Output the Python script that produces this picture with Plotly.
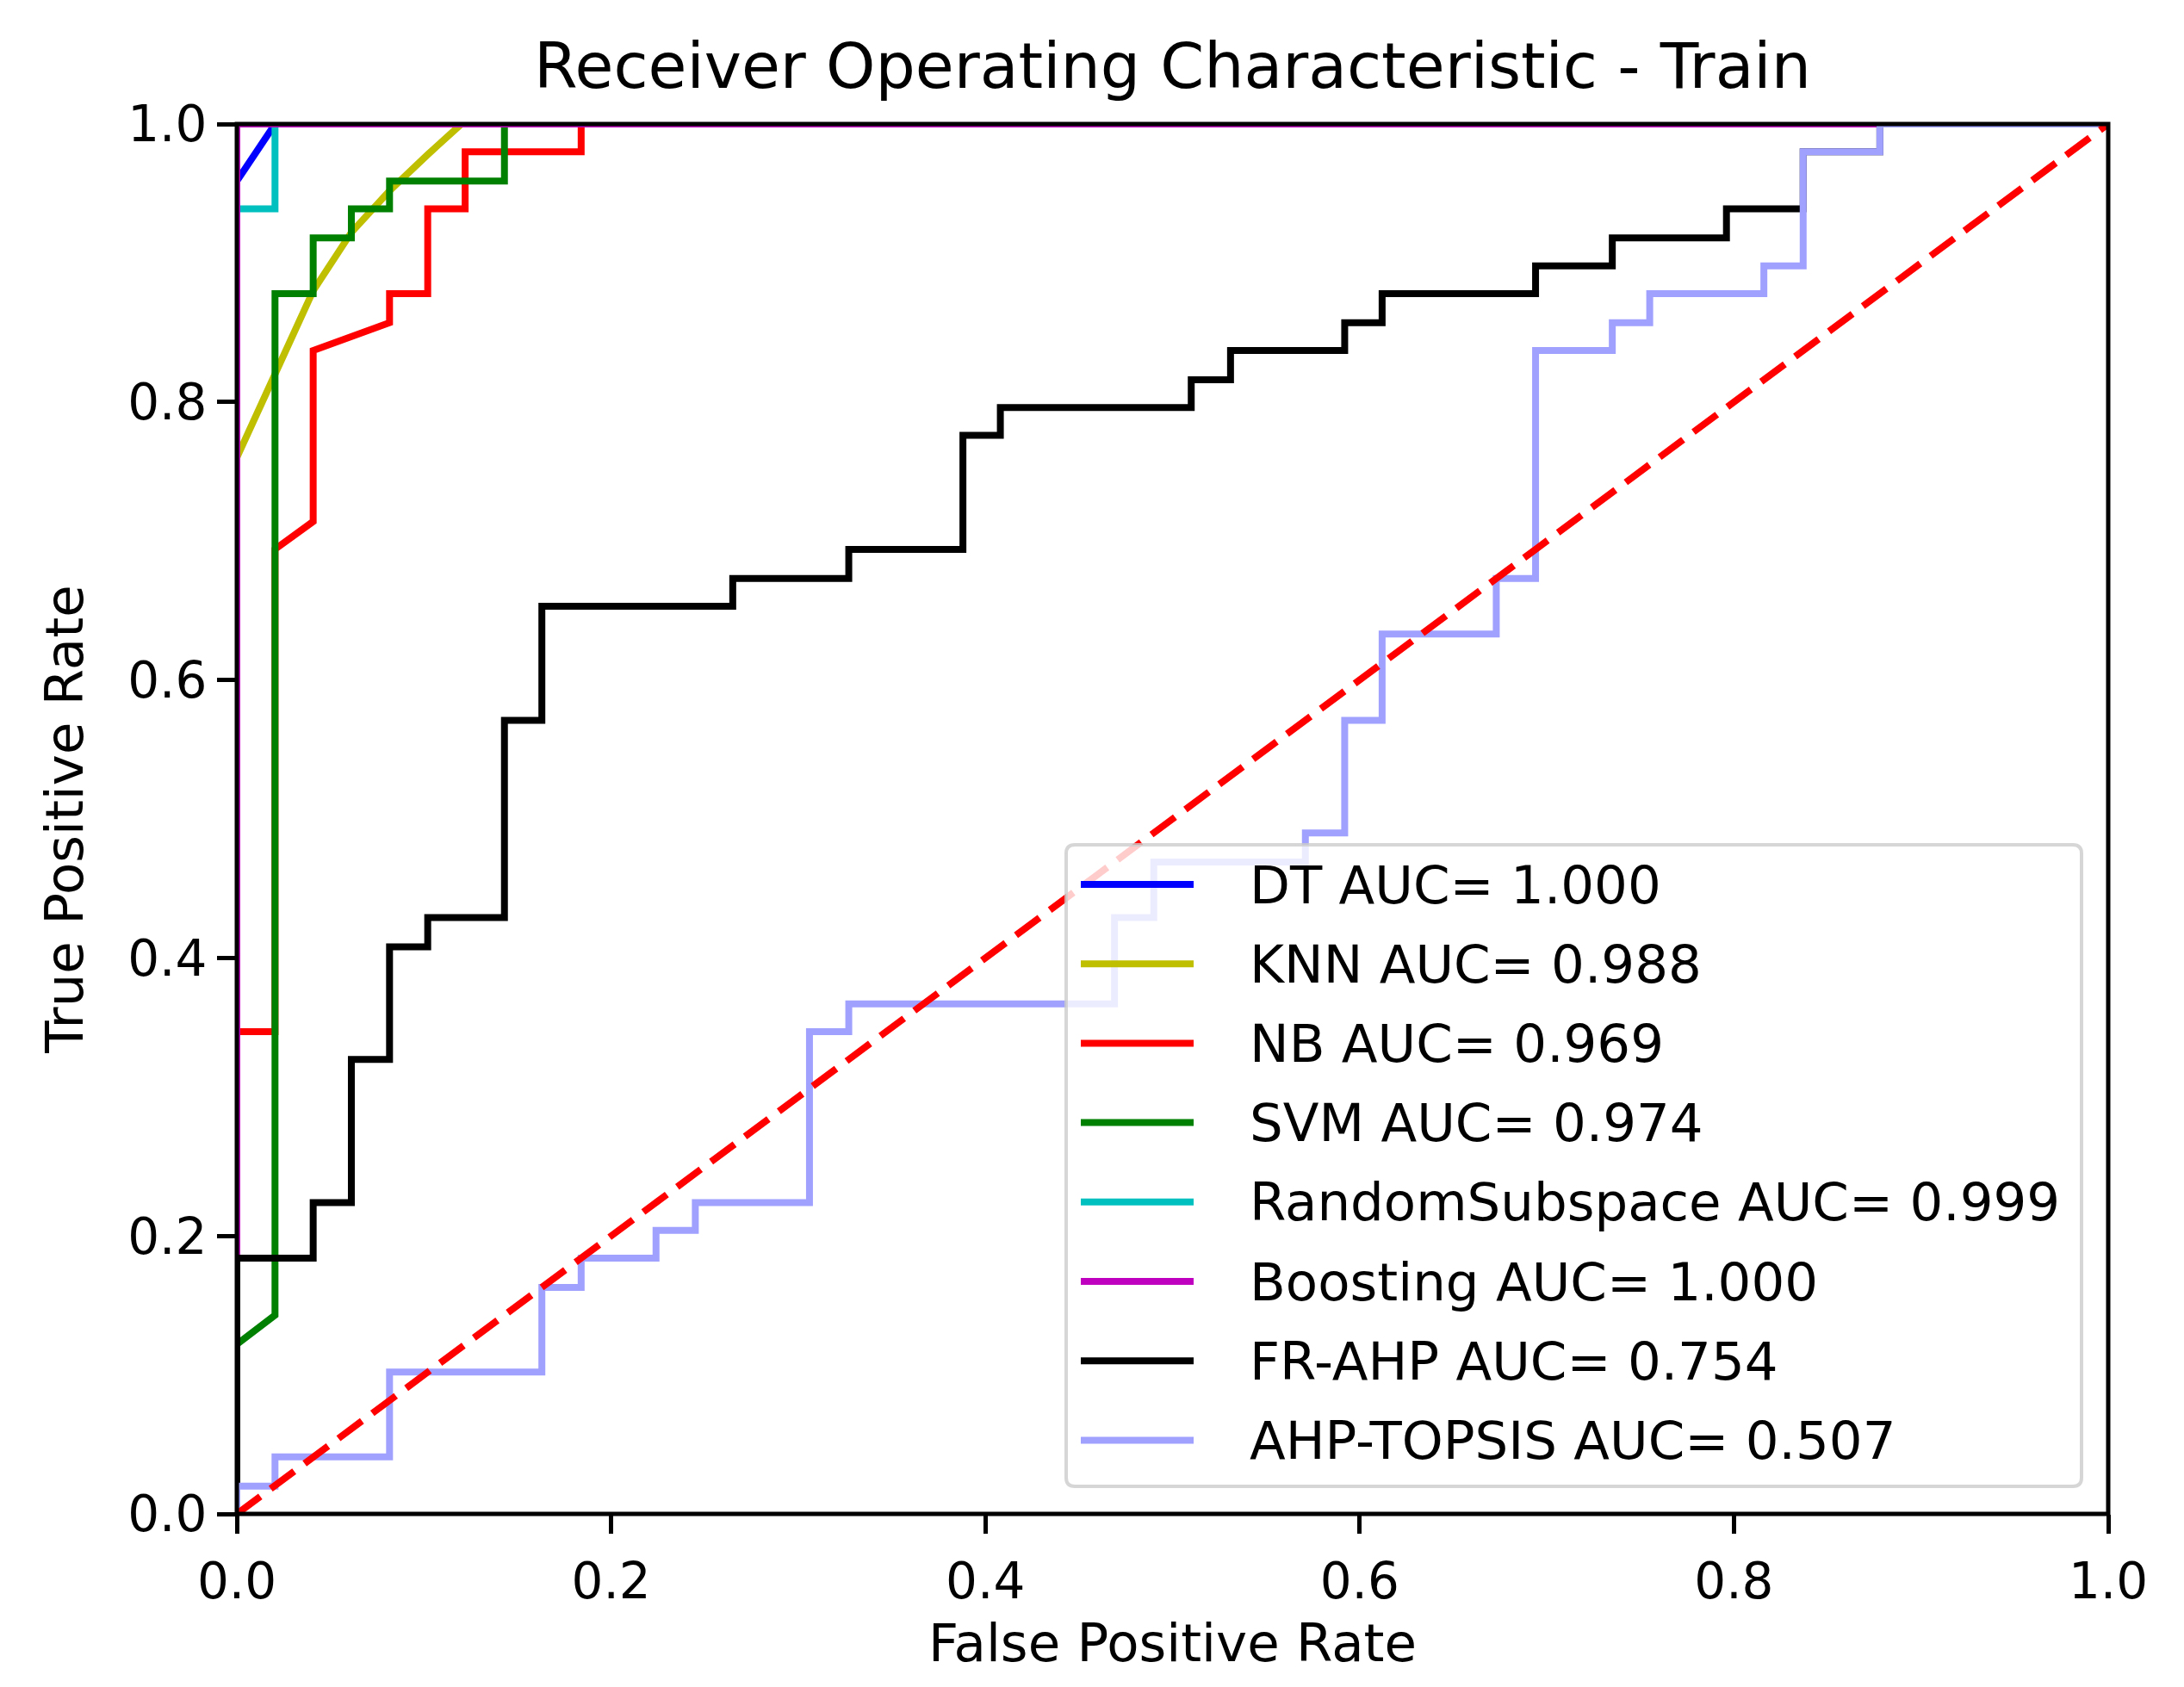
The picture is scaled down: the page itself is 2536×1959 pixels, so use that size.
import plotly.graph_objects as go

# ---------------- data ----------------
models = ["DT", "KNN", "NB", "SVM", "RandomSubspace", "Boosting", "FR-AHP", "AHP-TOPSIS"]
aucs = [1.000, 0.988, 0.969, 0.974, 0.999, 1.000, 0.754, 0.507]
colors = ["#0000ff", "#bfbf00", "#ff0000", "#008000", "#00bfbf", "#bf00bf", "#000000", "#a0a0ff"]

fpr_dt = [0.0, 0.0, 0.0204, 1.0]
tpr_dt = [0.0, 0.959, 1.0, 1.0]

fpr_knn = [0.0, 0.0, 0.0204, 0.0408, 0.0612, 0.0816, 0.102, 0.12, 1.0]
tpr_knn = [0.0, 0.76, 0.82, 0.88, 0.922, 0.952, 0.978, 1.0, 1.0]

fpr_nb = [0.0, 0.0, 0.0204, 0.0204, 0.0408, 0.0408, 0.0816, 0.0816,
          0.102, 0.102, 0.122, 0.122, 0.184, 0.184, 1.0]
tpr_nb = [0.0, 0.347, 0.347, 0.694, 0.714, 0.837, 0.857, 0.878,
          0.878, 0.939, 0.939, 0.980, 0.980, 1.0, 1.0]

fpr_svm = [0.0, 0.0, 0.0204, 0.0204, 0.0408, 0.0408, 0.0612, 0.0612,
           0.0816, 0.0816, 0.143, 0.143, 1.0]
tpr_svm = [0.0, 0.122, 0.143, 0.878, 0.878, 0.918, 0.918, 0.939,
           0.939, 0.959, 0.959, 1.0, 1.0]

fpr_rs = [0.0, 0.0, 0.0204, 0.0204, 1.0]
tpr_rs = [0.0, 0.939, 0.939, 1.0, 1.0]

fpr_boost = [0.0, 0.0, 1.0]
tpr_boost = [0.0, 1.0, 1.0]

fpr_fr = [0.0, 0.0, 0.0408, 0.0408, 0.0612, 0.0612, 0.0816, 0.0816,
          0.102, 0.102, 0.143, 0.143, 0.163, 0.163, 0.265, 0.265,
          0.327, 0.327, 0.388, 0.388, 0.408, 0.408, 0.510, 0.510,
          0.531, 0.531, 0.592, 0.592, 0.612, 0.612, 0.694, 0.694,
          0.735, 0.735, 0.796, 0.796, 0.837, 0.837, 0.878, 0.878, 1.0]
tpr_fr = [0.0, 0.184, 0.184, 0.224, 0.224, 0.327, 0.327, 0.408,
          0.408, 0.429, 0.429, 0.571, 0.571, 0.653, 0.653, 0.673,
          0.673, 0.694, 0.694, 0.776, 0.776, 0.796, 0.796, 0.816,
          0.816, 0.837, 0.837, 0.857, 0.857, 0.878, 0.878, 0.898,
          0.898, 0.918, 0.918, 0.939, 0.939, 0.980, 0.980, 1.0, 1.0]

fpr_ahp = [0.0, 0.0, 0.0204, 0.0204, 0.0816, 0.0816, 0.163, 0.163,
           0.184, 0.184, 0.224, 0.224, 0.245, 0.245, 0.306, 0.306,
           0.327, 0.327, 0.469, 0.469, 0.490, 0.490, 0.571, 0.571,
           0.592, 0.592, 0.612, 0.612, 0.673, 0.673, 0.694, 0.694,
           0.735, 0.735, 0.755, 0.755, 0.816, 0.816, 0.837, 0.837,
           0.878, 0.878, 1.0]
tpr_ahp = [0.0, 0.020, 0.020, 0.041, 0.041, 0.102, 0.102, 0.163,
           0.163, 0.184, 0.184, 0.204, 0.204, 0.224, 0.224, 0.347,
           0.347, 0.367, 0.367, 0.429, 0.429, 0.469, 0.469, 0.490,
           0.490, 0.571, 0.571, 0.633, 0.633, 0.673, 0.673, 0.837,
           0.837, 0.857, 0.857, 0.878, 0.878, 0.898, 0.898, 0.980,
           0.980, 1.0, 1.0]

diag_x = [0.0, 1.0]
diag_y = [0.0, 1.0]

tick_vals = [0.0, 0.2, 0.4, 0.6, 0.8, 1.0]
tick_text = ["0.0", "0.2", "0.4", "0.6", "0.8", "1.0"]

curves_x = [fpr_dt, fpr_knn, fpr_nb, fpr_svm, fpr_rs, fpr_boost, fpr_fr, fpr_ahp]
curves_y = [tpr_dt, tpr_knn, tpr_nb, tpr_svm, tpr_rs, tpr_boost, tpr_fr, tpr_ahp]

# ---------------- layout geometry (page pixels) ----------------
W, H = 2536, 1959
OFF = 8                       # default body margin of the html page
PL, PR, PT, PB = 275, 2448, 144, 1758   # plot-area edges on the page
FW, FH = W - 2 * OFF, H - 2 * OFF
ML, MT = PL - OFF, PT - OFF
MR = (OFF + FW) - PR
MB = (OFF + FH) - PB
PW = PR - PL
PH = PB - PT
FONT = "DejaVu Sans"
LW = 8
SPINE = 5


def pxx(px):
    return (px - PL) / PW


def pxy(py):
    return (PB - py) / PH


fig = go.Figure()
for name, auc, col, xs, ys in zip(models, aucs, colors, curves_x, curves_y):
    fig.add_trace(go.Scatter(x=xs, y=ys, mode="lines", name=f"{name} AUC= {auc:.3f}",
                             line=dict(color=col, width=LW), showlegend=False))

fig.add_trace(go.Scatter(x=diag_x, y=diag_y, mode="lines", showlegend=False,
                         line=dict(color="#ff0000", width=LW, dash="34px,15px")))

# axes frame centred on the plot-area edges (like matplotlib spines)
shapes = [dict(type="rect", xref="paper", yref="paper", x0=0, x1=1, y0=0, y1=1,
               line=dict(color="black", width=SPINE), fillcolor="rgba(0,0,0,0)", layer="above")]

# ---------------- custom legend (matplotlib-like) ----------------
bx0, bx1, by0, by1, r = 1238, 2417, 981, 1726, 10
X0, X1, Yt, Yb = pxx(bx0), pxx(bx1), pxy(by0), pxy(by1)
rx, ry = r / PW, r / PH
path = (f"M {X0+rx},{Yt} L {X1-rx},{Yt} Q {X1},{Yt} {X1},{Yt-ry} "
        f"L {X1},{Yb+ry} Q {X1},{Yb} {X1-rx},{Yb} L {X0+rx},{Yb} "
        f"Q {X0},{Yb} {X0},{Yb+ry} L {X0},{Yt-ry} Q {X0},{Yt} {X0+rx},{Yt} Z")
shapes.append(dict(type="path", path=path, xref="paper", yref="paper",
                   fillcolor="rgba(255,255,255,0.8)", line=dict(color="rgba(204,204,204,0.8)", width=4),
                   layer="above"))
annotations = []
row0, row_step = 1027, 92.2
for i, (name, auc, col) in enumerate(zip(models, aucs, colors)):
    yy = pxy(row0 + i * row_step)
    shapes.append(dict(type="line", xref="paper", yref="paper", x0=pxx(1255), x1=pxx(1386),
                       y0=yy, y1=yy, line=dict(color=col, width=LW), layer="above"))
    annotations.append(dict(text=f"{name} AUC= {auc:.3f}", x=pxx(1449), y=yy, xref="paper", yref="paper",
                            xanchor="left", yanchor="middle", showarrow=False,
                            font=dict(family=FONT, size=61, color="black")))

axis_common = dict(range=[0, 1], tickvals=tick_vals, ticktext=tick_text, ticks="outside",
                   ticklen=22, tickwidth=SPINE, tickcolor="black", showline=False,
                   showgrid=False, zeroline=False,
                   tickfont=dict(family=FONT, size=58, color="black"), automargin=False)

fig.update_layout(
    width=FW, height=FH,
    margin=dict(l=ML, r=MR, t=MT, b=MB, autoexpand=False),
    paper_bgcolor="white", plot_bgcolor="white",
    font=dict(family=FONT, color="black"),
    title=dict(text="Receiver Operating Characteristic - Train", x=0.5, xref="paper", xanchor="center",
               y=1, yref="paper", yanchor="bottom", pad=dict(b=42),
               font=dict(family=FONT, size=73, color="black")),
    xaxis=dict(**axis_common, ticklabelstandoff=5,
               title=dict(text="False Positive Rate", standoff=17,
                          font=dict(family=FONT, size=61, color="black"))),
    yaxis=dict(**axis_common,
               title=dict(text="True Positive Rate", standoff=31,
                          font=dict(family=FONT, size=61, color="black"))),
    shapes=shapes, annotations=annotations,
)

fig.write_html("out.html")
